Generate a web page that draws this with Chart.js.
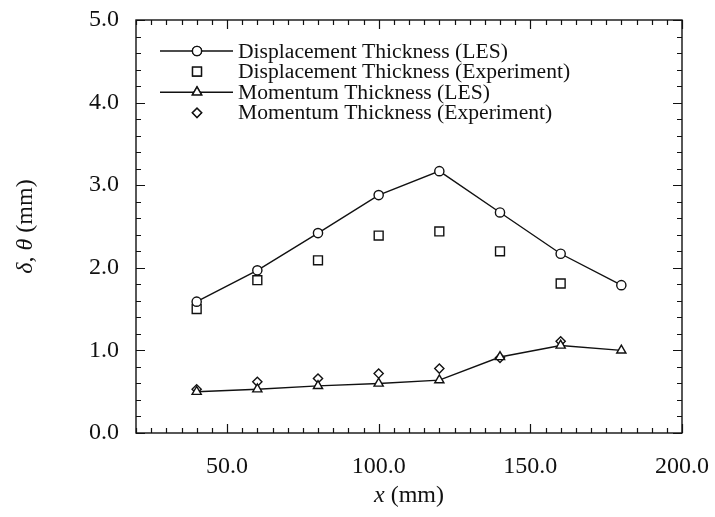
<!DOCTYPE html>
<html>
<head>
<meta charset="utf-8">
<script src="https://cdn.jsdelivr.net/npm/chart.js@4/dist/chart.umd.min.js"></script>
<style>
  html, body { margin: 0; padding: 0; background: #fff; }
  #wrap { width: 715px; height: 517px; }
</style>
</head>
<body>
<div id="wrap"><canvas id="thickness" width="715" height="517"></canvas></div>
<script>
  // streamwise stations, mm
  const stations = [40, 60, 80, 100, 120, 140, 160, 180];
  const expStations = [40, 60, 80, 100, 120, 140, 160];

  // displacement thickness delta, mm
  const dispLes = [1.59, 1.97, 2.42, 2.88, 3.17, 2.67, 2.17, 1.79];
  const dispExp = [1.50, 1.85, 2.09, 2.39, 2.44, 2.20, 1.81];

  // momentum thickness theta, mm
  const momLes = [0.50, 0.53, 0.57, 0.60, 0.64, 0.92, 1.06, 1.00];
  const momExp = [0.53, 0.62, 0.66, 0.72, 0.78, 0.91, 1.11];

  const legendLabels = [
    'Displacement Thickness (LES)',
    'Displacement Thickness (Experiment)',
    'Momentum Thickness (LES)',
    'Momentum Thickness (Experiment)'
  ];

  const ink = '#111';
  const serif = '"Liberation Serif", "Times New Roman", serif';

  const pts = (xs, ys) => xs.map((x, i) => ({ x: x, y: ys[i] }));

  function series(label, xs, ys, style, radius, line) {
    return {
      label: label,
      data: pts(xs, ys),
      showLine: line,
      borderColor: ink,
      borderWidth: 1.4,
      backgroundColor: 'rgba(0,0,0,0)',
      pointStyle: style,
      pointRadius: radius,
      pointBorderColor: ink,
      pointBorderWidth: 1.4,
      pointBackgroundColor: '#fff',
      tension: 0
    };
  }

  // frame with inward ticks on all four sides, plus titles and legend
  const framePlugin = {
    id: 'frame',
    afterDraw(chart) {
      const { ctx, chartArea: a, scales } = chart;
      ctx.save();
      ctx.strokeStyle = ink;
      ctx.lineWidth = 1.4;
      ctx.strokeRect(a.left, a.top, a.right - a.left, a.bottom - a.top);

      ctx.lineWidth = 1.2;
      ctx.beginPath();
      scales.x.ticks.forEach(t => {
        const px = Math.round(scales.x.getPixelForValue(t.value)) + 0.5;
        const len = Math.abs(t.value % 50) < 1e-6 ? 9 : 5;
        ctx.moveTo(px, a.bottom); ctx.lineTo(px, a.bottom - len);
        ctx.moveTo(px, a.top); ctx.lineTo(px, a.top + len);
      });
      scales.y.ticks.forEach(t => {
        const py = Math.round(scales.y.getPixelForValue(t.value)) + 0.5;
        const len = Math.abs(t.value - Math.round(t.value)) < 1e-6 ? 9 : 5;
        ctx.moveTo(a.left, py); ctx.lineTo(a.left + len, py);
        ctx.moveTo(a.right, py); ctx.lineTo(a.right - len, py);
      });
      ctx.stroke();

      // axis titles with italic symbols
      const drawParts = (parts, cx, cy) => {
        let total = 0;
        parts.forEach(p => { ctx.font = p[1] + ' 24px ' + serif; total += ctx.measureText(p[0]).width; });
        let x = cx - total / 2;
        parts.forEach(p => {
          ctx.font = p[1] + ' 24px ' + serif;
          ctx.fillText(p[0], x, cy);
          x += ctx.measureText(p[0]).width;
        });
      };
      ctx.fillStyle = ink;
      ctx.textBaseline = 'middle';
      ctx.textAlign = 'left';
      drawParts([['x', 'italic'], [' (mm)', 'normal']], (a.left + a.right) / 2, 496);
      ctx.save();
      ctx.translate(26, (a.top + a.bottom) / 2);
      ctx.rotate(-Math.PI / 2);
      drawParts([['\u03b4', 'italic'], [', ', 'normal'], ['\u03b8', 'italic'], [' (mm)', 'normal']], 0, 0);
      ctx.restore();

      // legend: line sample with the marker in the middle
      ctx.font = '21.6px ' + serif;
      chart.data.datasets.forEach((ds, i) => {
        const y = 51 + i * 20.6;
        const x0 = 160, x1 = 233, xm = 197;
        if (ds.showLine) {
          ctx.lineWidth = 1.4;
          ctx.beginPath();
          ctx.moveTo(x0, y); ctx.lineTo(x1, y);
          ctx.stroke();
        }
        ctx.lineWidth = 1.4;
        Chart.helpers.drawPoint(ctx, {
          pointStyle: ds.pointStyle, radius: ds.pointRadius, borderWidth: 1.4
        }, xm, y);
        ctx.fillStyle = '#fff';
        ctx.fill();
        ctx.stroke();
        ctx.fillStyle = ink;
        ctx.fillText(ds.label, 238, y + 1);
      });
      ctx.restore();
    }
  };

  new Chart(document.getElementById('thickness'), {
    type: 'line',
    data: {
      datasets: [
        series(legendLabels[0], stations, dispLes, 'circle', 4.6, true),
        series(legendLabels[1], expStations, dispExp, 'rect', 6.3, false),
        series(legendLabels[2], stations, momLes, 'triangle', 5.3, true),
        series(legendLabels[3], expStations, momExp, 'rectRot', 4.6, false)
      ]
    },
    options: {
      responsive: false,
      animation: false,
      events: [],
      layout: { padding: { left: 0, top: 20, right: 33, bottom: 0 } },
      plugins: { legend: { display: false }, tooltip: { enabled: false } },
      scales: {
        x: {
          type: 'linear',
          min: 20,
          max: 200,
          grid: { display: false },
          border: { display: false },
          afterFit(scale) {
            scale.height = 84;
            scale.paddingLeft = 0;
            scale.paddingRight = 0;
          },
          ticks: {
            stepSize: 5,
            autoSkip: false,
            maxRotation: 0,
            padding: 11,
            color: ink,
            font: { family: serif, size: 24 },
            callback: v => (Math.abs(v % 50) < 1e-6 ? v.toFixed(1) : '')
          }
        },
        y: {
          min: 0,
          max: 5,
          grid: { display: false },
          border: { display: false },
          afterFit(scale) {
            scale.width = 136;
            scale.paddingTop = 0;
            scale.paddingBottom = 0;
          },
          ticks: {
            stepSize: 0.2,
            autoSkip: false,
            padding: 9,
            color: ink,
            font: { family: serif, size: 24 },
            callback: v => (Math.abs(v - Math.round(v)) < 1e-6 ? v.toFixed(1) : '')
          }
        }
      }
    },
    plugins: [framePlugin]
  });
</script>
</body>
</html>
